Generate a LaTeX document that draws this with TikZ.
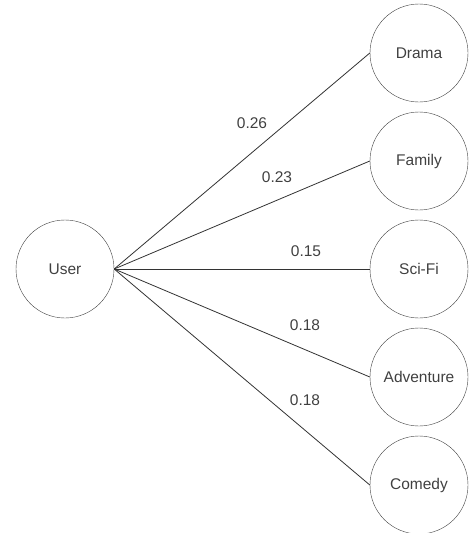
\documentclass[tikz,border=0pt]{standalone}
\usepackage{fontspec}
\setmainfont{Liberation Sans}

\begin{document}
\begin{tikzpicture}[x=1pt,y=-1pt,genre/.style={draw=black!75,circle,minimum size=98pt,inner sep=0pt,text=black!75},weight/.style={text=black!75,inner sep=1pt}]
\tikzset{edge/.style={draw=black!80,line width=0.8pt}}
\useasboundingbox (0,0) rectangle (470,533);
\fontsize{15.5}{18}\selectfont
\node[genre] (user) at (65,269) {User};
\node[genre] (drama) at (419,53) {Drama};
\node[genre] (family) at (419,161) {Family};
\node[genre] (scifi) at (419,269) {Sci-Fi};
\node[genre] (adventure) at (419,377) {Adventure};
\node[genre] (comedy) at (419,485) {Comedy};
\draw[edge] (user.east) -- (drama.west);
\draw[edge] (user.east) -- (family.west);
\draw[edge] (user.east) -- (scifi.west);
\draw[edge] (user.east) -- (adventure.west);
\draw[edge] (user.east) -- (comedy.west);
\node[weight] (w1) at (252,123) {0.26};
\node[weight] (w2) at (277,177) {0.23};
\node[weight] (w3) at (306,251) {0.15};
\node[weight] (w4) at (305,325) {0.18};
\node[weight] (w5) at (305,400) {0.18};
\end{tikzpicture}
\end{document}
